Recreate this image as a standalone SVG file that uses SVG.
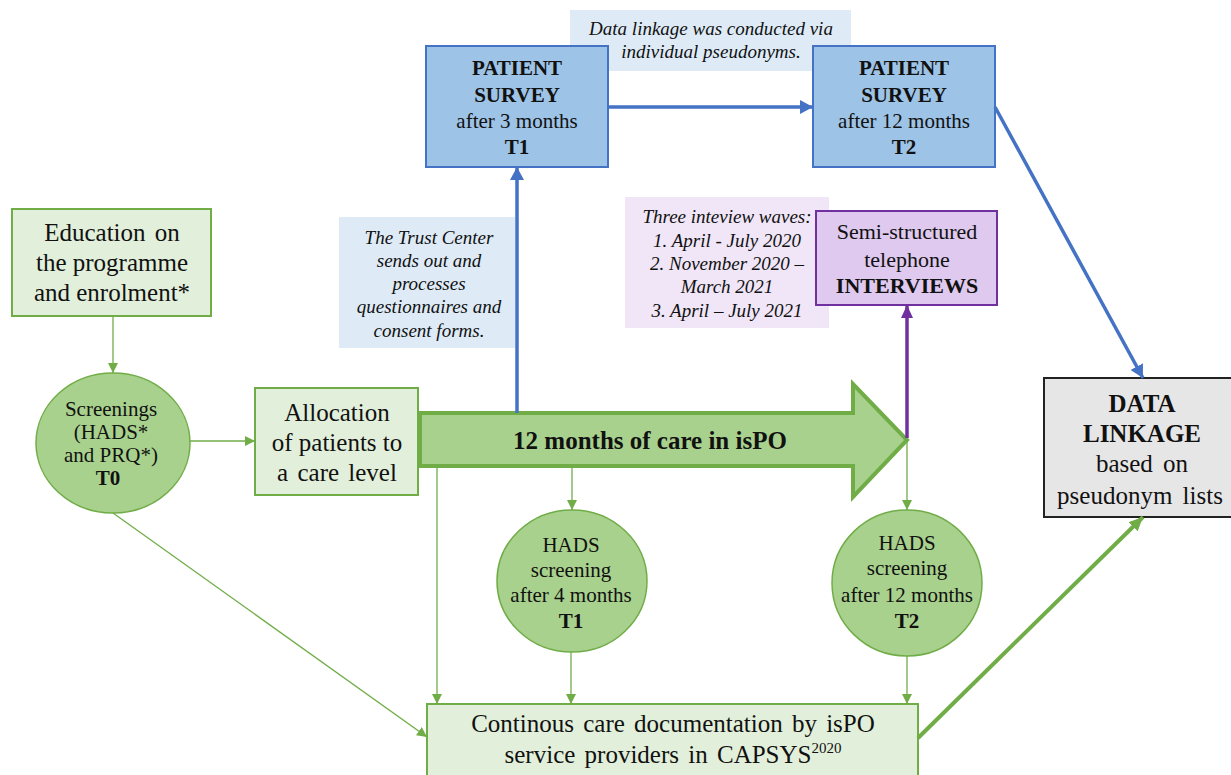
<svg xmlns="http://www.w3.org/2000/svg" width="1231" height="775" viewBox="0 0 1231 775">
<style>
  text { fill: #111; text-anchor: middle; }
  .t25 { font-size: 25px; }
  .t21 { font-size: 21px; }
  .t22 { font-size: 22px; }
  .b { font-weight: bold; }
  .it { font-style: italic; font-size: 19px; }
  .gbox { fill: #e2efda; stroke: #70ad47; stroke-width: 2; }
  .gcirc { fill: #a9d18e; stroke: #70ad47; stroke-width: 1.5; }
  .bbox { fill: #9dc3e6; stroke: #4472c4; stroke-width: 2; }
  .bnote { fill: #deebf7; }
  .pnote { fill: #f0e6f7; }
  .pbox { fill: #dfc9ef; stroke: #7030a0; stroke-width: 2; }
  .thin { stroke: #70ad47; stroke-width: 1.3; fill: none; marker-end: url(#ga); }
  .blue { stroke: #4472c4; stroke-width: 3.5; fill: none; marker-end: url(#ba); }
</style>
<defs>
  <marker id="ga" markerUnits="userSpaceOnUse" markerWidth="10" markerHeight="10" refX="10" refY="5" orient="auto">
    <path d="M0,0 L10,5 L0,10 z" fill="#70ad47"/>
  </marker>
  <marker id="ba" markerUnits="userSpaceOnUse" markerWidth="13" markerHeight="14" refX="13" refY="7" orient="auto">
    <path d="M0,0 L13,7 L0,14 z" fill="#4472c4"/>
  </marker>
  <marker id="pa" markerUnits="userSpaceOnUse" markerWidth="13" markerHeight="12" refX="13" refY="6" orient="auto">
    <path d="M0,0 L13,6 L0,12 z" fill="#7030a0"/>
  </marker>
  <marker id="gta" markerUnits="userSpaceOnUse" markerWidth="14" markerHeight="13" refX="14" refY="6.5" orient="auto">
    <path d="M0,0 L14,6.5 L0,13 z" fill="#70ad47"/>
  </marker>
</defs>
<g font-family="Liberation Serif, DejaVu Serif, serif">

<!-- notes -->
<g id="note-datalinkage">
  <rect class="bnote" x="570" y="10" width="281" height="61"/>
  <text class="it" x="711" y="35">Data linkage was conducted via</text>
  <text class="it" x="711" y="58">individual pseudonyms.</text>
</g>
<g id="note-trust">
  <rect class="bnote" x="339" y="217" width="176" height="131"/>
  <text class="it" x="429" y="244">The Trust Center</text>
  <text class="it" x="429" y="267">sends out and</text>
  <text class="it" x="429" y="290">processes</text>
  <text class="it" x="429" y="313" font-size="18.5">questionnaires and</text>
  <text class="it" x="429" y="337">consent forms.</text>
</g>
<g id="note-waves">
  <rect class="pnote" x="625" y="197" width="204" height="131"/>
  <text class="it" x="727" y="223">Three inteview waves:</text>
  <text class="it" x="727" y="247">1. April - July 2020</text>
  <text class="it" x="727" y="270">2. November 2020 –</text>
  <text class="it" x="727" y="293">March 2021</text>
  <text class="it" x="727" y="317">3. April – July 2021</text>
</g>

<!-- nodes -->
<g id="education">
  <rect class="gbox" x="12" y="209" width="199" height="107"/>
  <text class="t25" x="112" y="241" word-spacing="3">Education on</text>
  <text class="t25" x="112" y="271">the programme</text>
  <text class="t25" x="112" y="301">and enrolment*</text>
</g>
<g id="screenings">
  <ellipse class="gcirc" cx="113" cy="443" rx="77" ry="70"/>
  <text class="t21" x="111" y="416">Screenings</text>
  <text class="t21" x="111" y="439">(HADS*</text>
  <text class="t21" x="111" y="462">and PRQ*)</text>
  <text class="t21 b" x="108" y="485">T0</text>
</g>
<g id="allocation">
  <rect class="gbox" x="255" y="388" width="163" height="107"/>
  <text class="t25" x="337" y="421">Allocation</text>
  <text class="t25" x="337" y="451">of patients to</text>
  <text class="t25" x="337" y="481" word-spacing="3">a care level</text>
</g>
<g id="care-arrow">
  <polygon points="420,413 853,413 853,384 907,440 853,497 853,466 420,466" fill="#a9d18e" stroke="#70ad47" stroke-width="4" stroke-linejoin="miter"/>
  <text class="t25 b" x="650" y="449">12 months of care in isPO</text>
</g>
<g id="survey-t1">
  <rect class="bbox" x="426" y="46" width="182" height="121"/>
  <text class="t21 b" x="517" y="75">PATIENT</text>
  <text class="t21 b" x="517" y="102">SURVEY</text>
  <text class="t21" x="517" y="128">after 3 months</text>
  <text class="t21 b" x="517" y="154">T1</text>
</g>
<g id="survey-t2">
  <rect class="bbox" x="813" y="46" width="182" height="121"/>
  <text class="t21 b" x="904" y="75">PATIENT</text>
  <text class="t21 b" x="904" y="102">SURVEY</text>
  <text class="t21" x="904" y="128">after 12 months</text>
  <text class="t21 b" x="904" y="154">T2</text>
</g>
<g id="interviews">
  <rect class="pbox" x="816" y="211" width="181" height="94"/>
  <text class="t22" x="907" y="239">Semi-structured</text>
  <text class="t22" x="907" y="267">telephone</text>
  <text class="t22 b" x="907" y="293">INTERVIEWS</text>
</g>
<g id="data-linkage">
  <rect x="1044" y="378" width="192" height="139" fill="#e7e6e6" stroke="#222" stroke-width="2"/>
  <text class="t25 b" x="1142" y="412">DATA</text>
  <text class="t25 b" x="1142" y="442">LINKAGE</text>
  <text class="t25" x="1142" y="472" word-spacing="4">based on</text>
  <text class="t25" x="1140" y="504" word-spacing="4">pseudonym lists</text>
</g>
<g id="hads-t1">
  <ellipse class="gcirc" cx="572" cy="581" rx="75" ry="71"/>
  <text class="t21" x="571" y="552">HADS</text>
  <text class="t21" x="571" y="577">screening</text>
  <text class="t21" x="571" y="602">after 4 months</text>
  <text class="t21 b" x="571" y="628">T1</text>
</g>
<g id="hads-t2">
  <ellipse class="gcirc" cx="907" cy="583" rx="75" ry="73"/>
  <text class="t21" x="907" y="550">HADS</text>
  <text class="t21" x="907" y="575">screening</text>
  <text class="t21" x="907" y="602">after 12 months</text>
  <text class="t21 b" x="907" y="628">T2</text>
</g>
<g id="care-documentation">
  <rect class="gbox" x="427" y="704" width="491" height="76"/>
  <text class="t25" x="673" y="732" word-spacing="3">Continous care documentation by isPO</text>
  <text class="t25" x="673" y="763" word-spacing="3">service providers in CAPSYS<tspan font-size="15" dy="-10">2020</tspan></text>
</g>
</g>

<!-- connectors -->
<g id="connectors">
  <line class="thin" x1="113" y1="316" x2="113" y2="373"/>
  <line class="thin" x1="190" y1="441" x2="255" y2="441"/>
  <line class="thin" x1="113" y1="513" x2="427" y2="737"/>
  <line class="thin" x1="437" y1="467" x2="437" y2="704"/>
  <line class="thin" x1="572" y1="467" x2="572" y2="510"/>
  <line class="thin" x1="571" y1="652" x2="571" y2="704"/>
  <line class="thin" x1="907" y1="440" x2="907" y2="510"/>
  <line class="thin" x1="907" y1="656" x2="907" y2="704"/>
  <line class="blue" x1="517" y1="413" x2="517" y2="167"/>
  <line class="blue" x1="608" y1="107" x2="813" y2="107"/>
  <line class="blue" x1="995" y1="107" x2="1143" y2="378"/>
  <line x1="907" y1="438" x2="907" y2="305" stroke="#7030a0" stroke-width="3.5" marker-end="url(#pa)"/>
  <line x1="918" y1="738" x2="1143" y2="517" stroke="#70ad47" stroke-width="4" marker-end="url(#gta)"/>
</g>
</svg>
